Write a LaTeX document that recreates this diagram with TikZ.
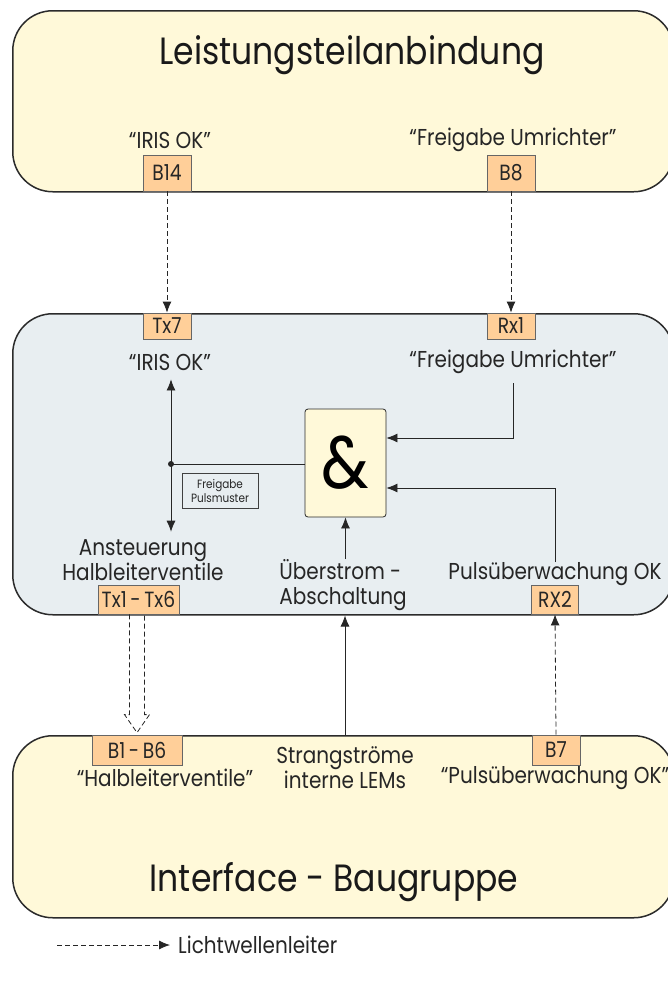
\documentclass[tikz,border=0pt]{standalone}
\usepackage{fontspec}
\setmainfont{Poppins}[FakeStretch=0.87]
\newfontfamily\portfont{Poppins}[FakeStretch=0.85]
\usepackage{tikz}
\usetikzlibrary{arrows.meta,calc}
\definecolor{panelyellow}{HTML}{FFF9D9}
\definecolor{panelgray}{HTML}{E8EEF1}
\definecolor{portorange}{HTML}{FFCF99}
\definecolor{linegray}{HTML}{2B2B2B}

\begin{document}
\begin{tikzpicture}[x=1pt, y=-1pt,
  panel/.style={draw=linegray, line width=1.5pt, rounded corners=40pt,
              inner sep=0pt, anchor=north west, minimum width=661pt},
  port/.style={draw=black!60, fill=portorange, line width=0.8pt, inner sep=0pt,
              text=black!85, font=\portfont\fontsize{22}{22}\selectfont},
  lbl/.style={font=\fontsize{23}{25}\selectfont, text=black!85, align=center,
              inner sep=0pt},
  heading/.style={font=\fontsize{38}{40}\selectfont, text=black!90, inner sep=0pt},
  line/.style={line width=0.8pt, color=black!85},
  arr/.style={line, -{Latex[length=11pt,width=9pt]}},
  lwl/.style={arr, dash pattern=on 5pt off 3pt}
]
\useasboundingbox (0,0) rectangle (668,983);

% Baugruppen
\node[panel, fill=panelyellow, minimum height=181pt] (leist) at (12,10) {};
\node[panel, fill=panelgray, minimum height=301pt] (mitte) at (12,313) {};
\node[panel, fill=panelyellow, minimum height=182pt] (iface) at (12,735) {};

\node[heading] (tleist) at (352,55) {Leistungsteilanbindung};
\node[heading] (tiface) at (334,882) {Interface - Baugruppe};

% Anschluesse
\node[port, minimum width=48pt, minimum height=36pt] (b14) at (167,173) {B14};
\node[port, minimum width=48pt, minimum height=36pt] (b8)  at (511,173) {B8};
\node[port, minimum width=48pt, minimum height=26pt] (tx7) at (167,326) {Tx7};
\node[port, minimum width=48pt, minimum height=26pt] (rx1) at (511,326) {Rx1};
\node[port, minimum width=81pt, minimum height=29pt] (txa) at (138.5,599.5) {Tx1\,-\,Tx6};
\node[port, minimum width=47pt, minimum height=29pt] (rx2) at (555,599.5) {RX2};
\node[port, minimum width=90pt, minimum height=30pt] (b16) at (137,750) {B1\,-\,B6};
\node[port, minimum width=48pt, minimum height=30pt] (b7)  at (556,750) {B7};

% Beschriftungen
\node[lbl] (lTopIris) at (170,140) {“IRIS OK”};
\node[lbl] (lTopFrei) at (513,140) {“Freigabe Umrichter”};
\node[lbl] (lIris) at (170,362) {“IRIS OK”};
\node[lbl] (lFrei) at (513,362) {“Freigabe Umrichter”};
\node[lbl] (lAnst) at (143,560.5) {Ansteuerung\\Halbleiterventile};
\node[lbl, align=left] (lUeber) at (343,585) {Überstrom -\\Abschaltung};
\node[lbl] (lPuls) at (555,574) {Pulsüberwachung OK};
\node[lbl] (lStrang) at (345,768) {Strangströme\\interne LEMs};
\node[lbl] (lHalb) at (165,778) {“Halbleiterventile”};
\node[lbl] (lPulsB) at (555,778) {“Pulsüberwachung OK”};

% Verknuepfung
\node[draw=linegray, line width=0.8pt, fill=panelyellow, rounded corners=3pt,
      minimum width=81pt, minimum height=108pt,
      font=\fontsize{74}{74}\selectfont] (und) at (345.5,463) {\&};
\node[draw=black!75, line width=0.6pt, inner sep=2pt, minimum width=76pt,
      minimum height=35pt, align=center, text=black!85,
      font=\fontsize{12}{14}\selectfont] (fpm) at (220,490.5) {Freigabe\\Pulsmuster};
\coordinate (junc) at (171,464);

% Verbindungen
\draw[lwl] (b14.south) -- (tx7.north);
\draw[lwl] (b8.south) -- (rx1.north);
\draw[lwl] (b7.north) -- (rx2.south);
\draw[arr] (junc) -- ([yshift=-9pt]junc |- lIris.south);
\draw[arr] (junc) -- ([yshift=8pt]junc |- lAnst.north);
\fill[black!85] (junc) circle (3pt);
\draw[line] (junc) -- (und.west |- junc);
\draw[arr] ([yshift=-9pt]lFrei.south) |- ([yshift=25pt]und.east);
\draw[arr] (lPuls.north) |- ([yshift=-25pt]und.east);
\draw[arr] (lUeber.north -| und.south) -- (und.south);
\draw[arr] (lStrang |- iface.north) -- (lStrang |- mitte.south);
\draw[line, dash pattern=on 5pt off 3pt]
  ($(b16.north |- txa.south)+(-7.5,0)$) -- ($(b16.north)+(-7.5,-20)$)
  -- ($(b16.north)+(-12.5,-20)$) -- ($(b16.north)+(0,-2)$)
  -- ($(b16.north)+(12.5,-20)$) -- ($(b16.north)+(7.5,-20)$)
  -- ($(b16.north |- txa.south)+(7.5,0)$);

% Legende
\coordinate (legA) at (57,945);
\node[lbl, anchor=west] (legtxt) at (178,945) {Lichtwellenleiter};
\draw[lwl] (legA) -- ([xshift=-8pt]legtxt.west);
\end{tikzpicture}
\end{document}
